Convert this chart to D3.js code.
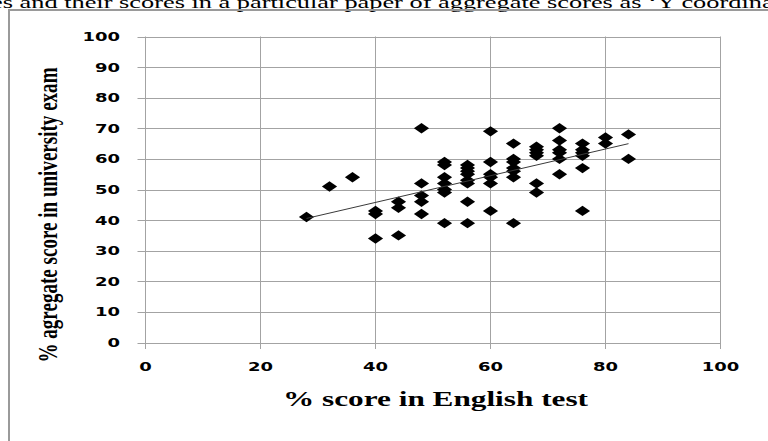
<!DOCTYPE html>
<html><head><meta charset="utf-8">
<script src="https://cdn.jsdelivr.net/npm/d3@7"></script>
<style>html,body{margin:0;padding:0;background:#fff;overflow:hidden}</style>
</head><body><svg id="c" width="768" height="441"></svg>
<script>
// ---- data ----
const englishScores = [
  28, 32, 36,
  40, 40, 40,
  44, 44, 44,
  48, 48, 48, 48, 48,
  52, 52, 52, 52, 52, 52, 52,
  56, 56, 56, 56, 56, 56, 56, 56,
  60, 60, 60, 60, 60, 60,
  64, 64, 64, 64, 64, 64, 64,
  68, 68, 68, 68, 68, 68,
  72, 72, 72, 72, 72, 72,
  76, 76, 76, 76, 76, 76,
  80, 80,
  84, 84
];
const examScores = [
  41, 51, 54,
  43, 42, 34,
  46, 44, 35,
  70, 52, 48, 46, 42,
  59, 58, 54, 52, 50, 49, 39,
  58, 57, 56, 55, 53, 52, 46, 39,
  69, 59, 55, 54, 52, 43,
  65, 60, 59, 57, 56, 54, 39,
  64, 63, 62, 61, 52, 49,
  70, 66, 63, 62, 60, 55,
  65, 63, 62, 61, 57, 43,
  67, 65,
  68, 60
];
const xTicks = [0, 20, 40, 60, 80, 100];
const yTicks = [0, 10, 20, 30, 40, 50, 60, 70, 80, 90, 100];
const xTitle = "% score in English test";
const yTitle = "% agregate score in university exam";
const topText = "es and their scores in a particular paper of aggregate scores as \u2018Y coordinate\u2019 and";

// ---- drawing ----
const svg = d3.select("#c");
const W = 768, H = 441;
const x = d3.scaleLinear().domain([0, 100]).range([145.5, 720.5]);
const y = d3.scaleLinear().domain([0, 100]).range([342.5, 36.5]);
const gridColor = "#a3a3a3";
const stretch = 1.5;

// top clipped text line
const tt = svg.append("text")
  .attr("x", 0).attr("y", 0)
  .attr("font-family", "'Liberation Serif','Times New Roman',serif")
  .attr("font-size", 16)
  .attr("fill", "#000")
  .text(topText);
const cut = topText.indexOf(" as ");
const subLen = tt.node().getSubStringLength(0, cut);
const sx = (613 + 9) / subLen;
tt.attr("transform", `translate(-9,7.5) scale(${sx},1)`);

// outer frame (left & top)
svg.append("line").attr("x1", 9).attr("x2", 9).attr("y1", 10).attr("y2", H)
  .attr("stroke", "#9a9a9a").attr("stroke-width", 2);
svg.append("line").attr("x1", 8).attr("x2", W).attr("y1", 10).attr("y2", 10)
  .attr("stroke", "#9a9a9a").attr("stroke-width", 2);

// gridlines
const g = svg.append("g");
g.selectAll(".hg").data(yTicks).join("line")
  .attr("x1", x(0) - 8).attr("x2", x(100))
  .attr("y1", d => Math.round(y(d)) + 0.5).attr("y2", d => Math.round(y(d)) + 0.5)
  .attr("stroke", gridColor).attr("stroke-width", 1);
g.selectAll(".vg").data(xTicks).join("line")
  .attr("x1", d => x(d)).attr("x2", d => x(d))
  .attr("y1", y(100)).attr("y2", Math.round(y(0)) + 6)
  .attr("stroke", gridColor).attr("stroke-width", 1);

// tick labels
const tickFont = "'DejaVu Sans',Verdana,sans-serif";
svg.selectAll(".yl").data(yTicks).join("text")
  .attr("transform", d => `translate(120,${y(d) + 4.4}) scale(${stretch},1)`)
  .attr("text-anchor", "end")
  .attr("font-family", tickFont).attr("font-weight", "bold").attr("font-size", 12)
  .attr("fill", "#000")
  .text(d => d);
svg.selectAll(".xl").data(xTicks).join("text")
  .attr("transform", d => `translate(${x(d)},371) scale(${stretch},1)`)
  .attr("text-anchor", "middle")
  .attr("font-family", tickFont).attr("font-weight", "bold").attr("font-size", 12)
  .attr("fill", "#000")
  .text(d => d);

// axis titles
svg.append("text")
  .attr("x", 283).attr("y", 406)
  .attr("font-family", "'Liberation Serif','Times New Roman',serif")
  .attr("font-weight", "bold").attr("font-size", 20)
  .attr("textLength", 305).attr("lengthAdjust", "spacingAndGlyphs")
  .attr("fill", "#000")
  .text(xTitle);
svg.append("text")
  .attr("transform", "translate(57,215) rotate(-90) scale(1,1.5)")
  .attr("text-anchor", "middle")
  .attr("font-family", "'Liberation Serif','Times New Roman',serif")
  .attr("font-weight", "bold").attr("font-size", 18)
  .attr("textLength", 295).attr("lengthAdjust", "spacingAndGlyphs")
  .attr("fill", "#000")
  .text(yTitle);

// linear trendline (least squares)
const n = englishScores.length;
const mx = d3.mean(englishScores), my = d3.mean(examScores);
let sxy = 0, sxx = 0;
for (let i = 0; i < n; i++) {
  sxy += (englishScores[i] - mx) * (examScores[i] - my);
  sxx += (englishScores[i] - mx) ** 2;
}
const slope = sxy / sxx, intercept = my - slope * mx;
const x0 = d3.min(englishScores), x1 = d3.max(englishScores);

// points
const pts = englishScores.map((e, i) => [e, examScores[i]]);
svg.append("g").selectAll("path").data(pts).join("path")
  .attr("transform", d => `translate(${x(d[0])},${y(d[1])})`)
  .attr("d", "M0,-5.2L7.6,0L0,5.2L-7.6,0Z")
  .attr("fill", "#000");

svg.append("line")
  .attr("x1", x(x0)).attr("y1", y(intercept + slope * x0))
  .attr("x2", x(x1)).attr("y2", y(intercept + slope * x1))
  .attr("stroke", "#3a3a3a").attr("stroke-width", 1);
</script>
</body></html>
